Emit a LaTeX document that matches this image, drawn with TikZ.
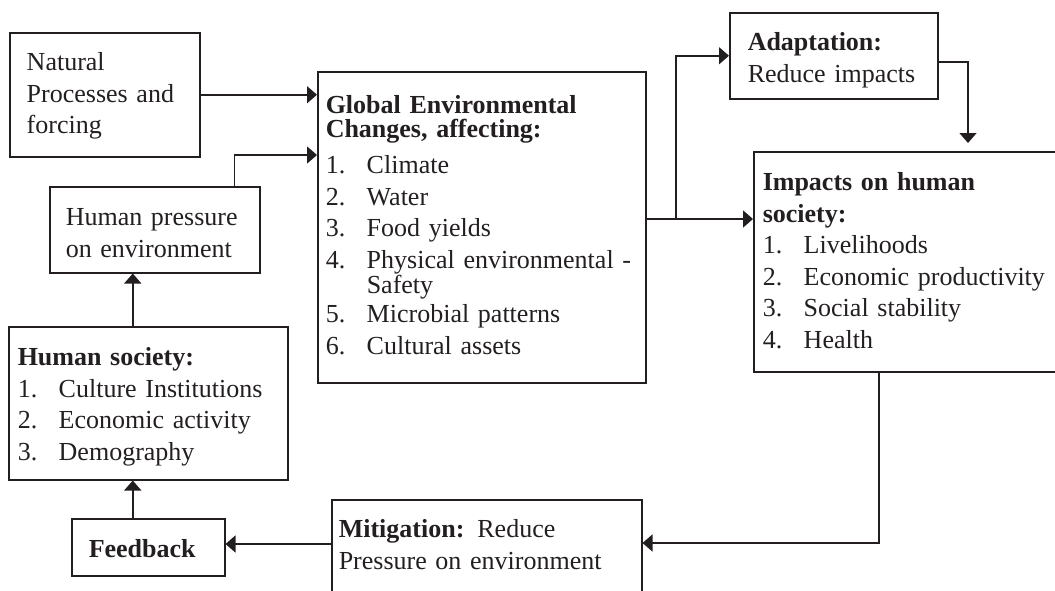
\documentclass[tikz,border=0pt]{standalone}
\usepackage{fontspec}
\setmainfont{Liberation Serif}
\usetikzlibrary{arrows.meta}
\definecolor{ink}{HTML}{231F20}
\newcommand{\itm}[2]{\makebox[20.5pt][l]{#1.}#2}

\begin{document}
\begin{tikzpicture}[x=0.5pt,y=-0.5pt,ink,line width=0.75pt,>={Triangle[length=5pt,width=8.5pt]},
	every node/.style={font=\fontsize{13}{15.75}\selectfont},
	blk/.style={draw, anchor=north west, align=left, inner ysep=0pt}]
	\useasboundingbox (0,0) rectangle (1055,590);
	\clip (0,0) rectangle (1055,590);
	% boxes: text height = top to first baseline, text depth = first baseline to bottom
	\node[blk, text width=78pt, inner xsep=8.5pt, text height=19pt, text depth=43pt] (natural) at (9,32) {Natural\\Processes and\\forcing};
	\node[blk, text width=89pt, inner xsep=8pt, text height=19.5pt, text depth=23.5pt] (press) at (49,186) {Human pressure\\on environment};
	\node[blk, text width=130.5pt, inner xsep=4.5pt, text height=19.5pt, text depth=57pt] (society) at (8,326) {\textbf{Human society:}\\\itm{1}{Culture Institutions}\\\itm{2}{Economic activity}\\\itm{3}{Demography}};
	\node[blk, text width=59.5pt, inner xsep=8.5pt, text height=19.5pt, text depth=9pt] (feedback) at (71,518) {\textbf{Feedback}};
	\node[blk, text width=156pt, inner xsep=4pt, text height=21pt, text depth=134.5pt] (global) at (317,71) {\textbf{Global Environmental}\\[-3.75pt]\textbf{Changes, affecting:}\\[2.25pt]\itm{1}{Climate}\\\itm{2}{Water}\\\itm{3}{Food yields}\\\itm{4}{Physical environmental -}\\[-3.25pt]\hspace*{20.5pt}Safety\\[-1pt]\itm{5}{Microbial patterns}\\\itm{6}{Cultural assets}};
	\node[blk, text width=148pt, inner xsep=3.5pt, text height=19pt, text depth=60pt] (mitig) at (331,499) {\textbf{Mitigation:} Reduce\\Pressure on environment};
	\node[blk, text width=86pt, inner xsep=9pt, text height=19pt, text depth=24pt] (adapt) at (729,12) {\textbf{Adaptation:}\\Reduce impacts};
	\node[blk, text width=300pt, inner xsep=4.5pt, text height=19.5pt, text depth=90.5pt] (impacts) at (753,151) {\textbf{Impacts on human}\\\textbf{society:}\\\itm{1}{Livelihoods}\\\itm{2}{Economic productivity}\\\itm{3}{Social stability}\\\itm{4}{Health}};
	\coordinate (split) at (676,219);
	\path [->] (natural.east) edge (natural.east -| global.west);
	\draw [->] ([xshift=-13pt]press.north east) |- ([yshift=-42pt]global.north west);
	\path [->] ([yshift=-74pt]global.north east) edge ([yshift=-74pt]global.north east -| impacts.west);
	\draw [->] (split) |- (adapt.west);
	\draw [->, shorten >=4pt] ([yshift=-25pt]adapt.north east) -| ([xshift=107.5pt]impacts.north west);
	\draw [->] ([xshift=63pt]impacts.south west) |- ([yshift=-22pt]mitig.north east);
	\path [->] ([yshift=-22.5pt]mitig.north west) edge ([yshift=-22.5pt]mitig.north west -| feedback.east);
	\path [->] ([xshift=-7.75pt]feedback.north) edge ([xshift=-7.75pt]feedback.north |- society.south);
	\path [->] ([xshift=-7.75pt]society.north) edge ([xshift=-7.75pt]society.north |- press.south);
\end{tikzpicture}
\end{document}
